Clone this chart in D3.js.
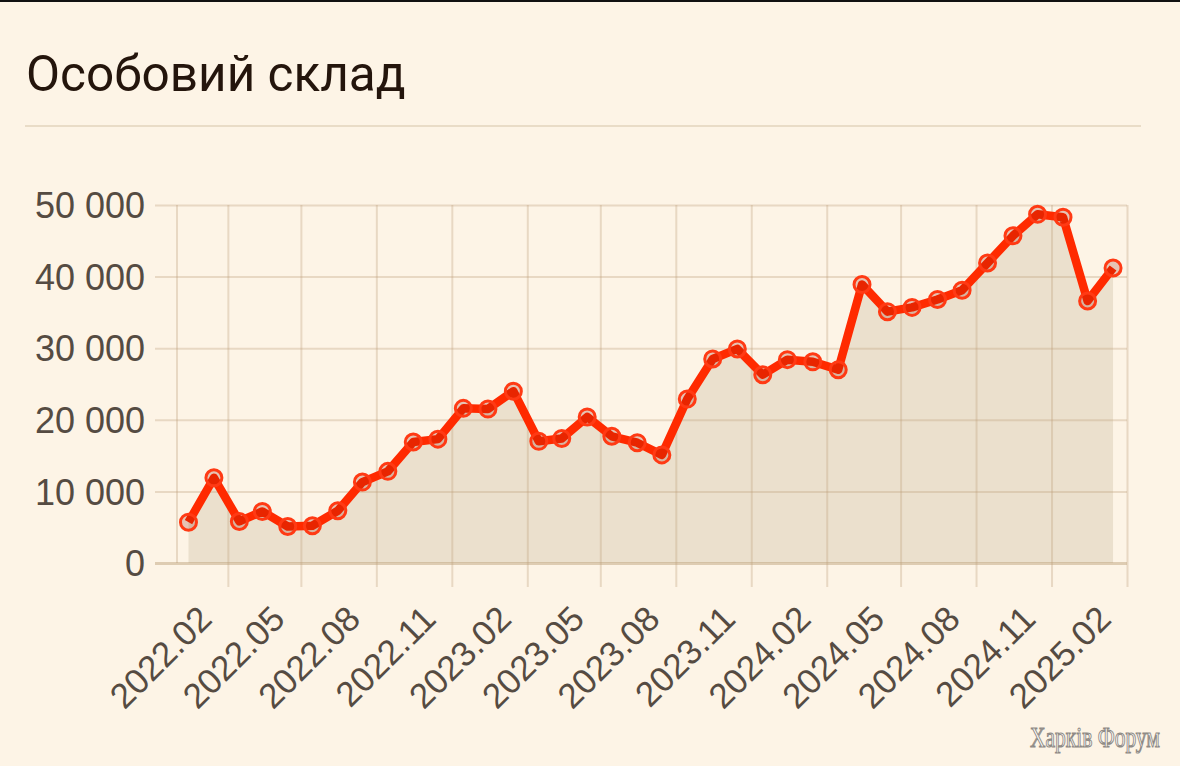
<!DOCTYPE html>
<html>
<head>
<meta charset="utf-8">
<script src="https://cdn.jsdelivr.net/npm/d3@7/dist/d3.min.js"></script>
<style>
  html, body { margin: 0; padding: 0; background: #fdf4e6; }
  svg { display: block; }
</style>
</head>
<body>
<svg id="chart" width="1180" height="766"></svg>
<script>
// ---- data ----
const title = "Особовий склад";
const watermark = "Харків Форум";
const months = [
  "2021-12","2022-01","2022-02","2022-03","2022-04","2022-05","2022-06","2022-07","2022-08","2022-09","2022-10","2022-11",
  "2022-12","2023-01","2023-02","2023-03","2023-04","2023-05","2023-06","2023-07","2023-08","2023-09","2023-10","2023-11",
  "2023-12","2024-01","2024-02","2024-03","2024-04","2024-05","2024-06","2024-07","2024-08","2024-09","2024-10","2024-11",
  "2024-12","2025-01"
];
const personnel = [
  5700, 11900, 5800, 7200, 5100, 5200, 7300, 11300, 12800, 16900, 17300, 21600,
  21500, 24000, 17000, 17400, 20400, 17700, 16800, 15100, 22900, 28500, 29900, 26300,
  28400, 28100, 27000, 38900, 35100, 35700, 36800, 38100, 41900, 45700, 48700, 48300,
  36600, 41200
];
const yTicks = [0, 10000, 20000, 30000, 40000, 50000];
const xTickLabels = ["2022.02","2022.05","2022.08","2022.11","2023.02","2023.05","2023.08","2023.11","2024.02","2024.05","2024.08","2024.11","2025.02"];
const xDomainLabels = ["2021.12", "2025.02"];

// ---- helpers ----
const parseMonth = d3.timeParse("%Y.%m");
const data = months.map((m, i) => {
  const [y, mo] = m.split("-").map(Number);
  return { date: new Date(y, mo - 1, 15), value: personnel[i] };
});

const svg = d3.select("#chart");
const W = 1180, H = 766;

svg.append("rect").attr("width", W).attr("height", H).attr("fill", "#fdf4e6");
svg.append("rect").attr("x", 0).attr("y", 0).attr("width", W).attr("height", 2).attr("fill", "#111");

// title
svg.append("text")
  .attr("x", 26).attr("y", 91)
  .attr("font-family", "Roboto, 'Noto Sans', sans-serif")
  .attr("font-size", 49.5)
  .attr("fill", "#24150c")
  .text(title);

svg.append("line")
  .attr("x1", 25).attr("x2", 1141).attr("y1", 126).attr("y2", 126)
  .attr("stroke", "#e9dcc7").attr("stroke-width", 2);

const x = d3.scaleTime()
  .domain(xDomainLabels.map(parseMonth))
  .range([177, 1127]);
const y = d3.scaleLinear().domain([0, 50000]).range([563, 205]);

const locale = d3.formatLocale({ decimal: ",", thousands: " ", grouping: [3], currency: ["", ""] });
const fmt = locale.format(",d");

const gridColor = "rgba(190,160,120,0.32)";
const labelColor = "#554b42";
const fontAxis = "'Liberation Sans', Arial, sans-serif";

// area
const area = d3.area()
  .x(d => x(d.date)).y0(y(0)).y1(d => y(d.value));
svg.append("path").datum(data)
  .attr("d", area)
  .attr("fill", "#ebe0cd");

// y grid
const gy = svg.append("g").attr("transform", "translate(1127,0)");
gy.call(d3.axisLeft(y).tickValues(yTicks).tickFormat("").tickSize(1127 - 155));
gy.select(".domain").remove();
gy.selectAll(".tick line").attr("stroke", gridColor).attr("stroke-width", 2);
gy.selectAll(".tick").filter(d => d === 0).select("line")
  .attr("stroke", "rgba(185,155,115,0.45)").attr("stroke-width", 3);

// y labels
const gyl = svg.append("g").attr("transform", "translate(155,0)");
gyl.call(d3.axisLeft(y).tickValues(yTicks).tickFormat(fmt).tickSize(0).tickPadding(10));
gyl.select(".domain").remove();
gyl.selectAll("text")
  .attr("font-family", fontAxis).attr("font-size", 36)
  .attr("fill", labelColor).attr("dy", "0.35em");

// x grid (vertical lines)
const xTicks = xTickLabels.map(parseMonth);
const gx = svg.append("g").attr("transform", "translate(0,587)");
gx.call(d3.axisBottom(x).tickValues(xTicks).tickFormat("").tickSize(-(587 - 205)));
gx.select(".domain").remove();
gx.selectAll(".tick line").attr("stroke", gridColor).attr("stroke-width", 2);

// left border line
svg.append("line")
  .attr("x1", x(parseMonth(xDomainLabels[0]))).attr("x2", x(parseMonth(xDomainLabels[0])))
  .attr("y1", 205).attr("y2", 563)
  .attr("stroke", gridColor).attr("stroke-width", 2);

// x labels
svg.append("g").selectAll("text")
  .data(xTicks)
  .join("text")
  .attr("transform", d => `translate(${x(d) - 14},${621}) rotate(-45)`)
  .attr("text-anchor", "end")
  .attr("font-family", fontAxis).attr("font-size", 35)
  .attr("fill", labelColor)
  .text((d, i) => xTickLabels[i]);

// line
const line = d3.line().x(d => x(d.date)).y(d => y(d.value));
svg.append("path").datum(data)
  .attr("d", line)
  .attr("fill", "none")
  .attr("stroke", "#ff2a00")
  .attr("stroke-width", 8.5)
  .attr("stroke-linejoin", "round")
  .attr("stroke-linecap", "butt");

// markers
svg.append("g").selectAll("circle")
  .data(data)
  .join("circle")
  .attr("cx", d => x(d.date)).attr("cy", d => y(d.value))
  .attr("r", 8)
  .attr("fill", "rgba(150,25,0,0.22)")
  .attr("stroke", "#ff3a14")
  .attr("stroke-width", 3);

// watermark (horizontally condensed serif outline)
const wm = svg.append("text")
  .attr("x", 0).attr("y", 0)
  .attr("font-family", "'Liberation Serif', 'DejaVu Serif', serif")
  .attr("font-size", 30)
  .attr("fill", "#ffffff")
  .attr("stroke", "#8f8a85")
  .attr("stroke-width", 1)
  .text(watermark);
const wmLen = wm.node().getComputedTextLength() || 160;
const sx = 130 / wmLen;
wm.attr("transform", `translate(1030,747) scale(${sx},1)`)
  .attr("stroke-width", 1 / Math.sqrt(sx));
</script>
</body>
</html>
